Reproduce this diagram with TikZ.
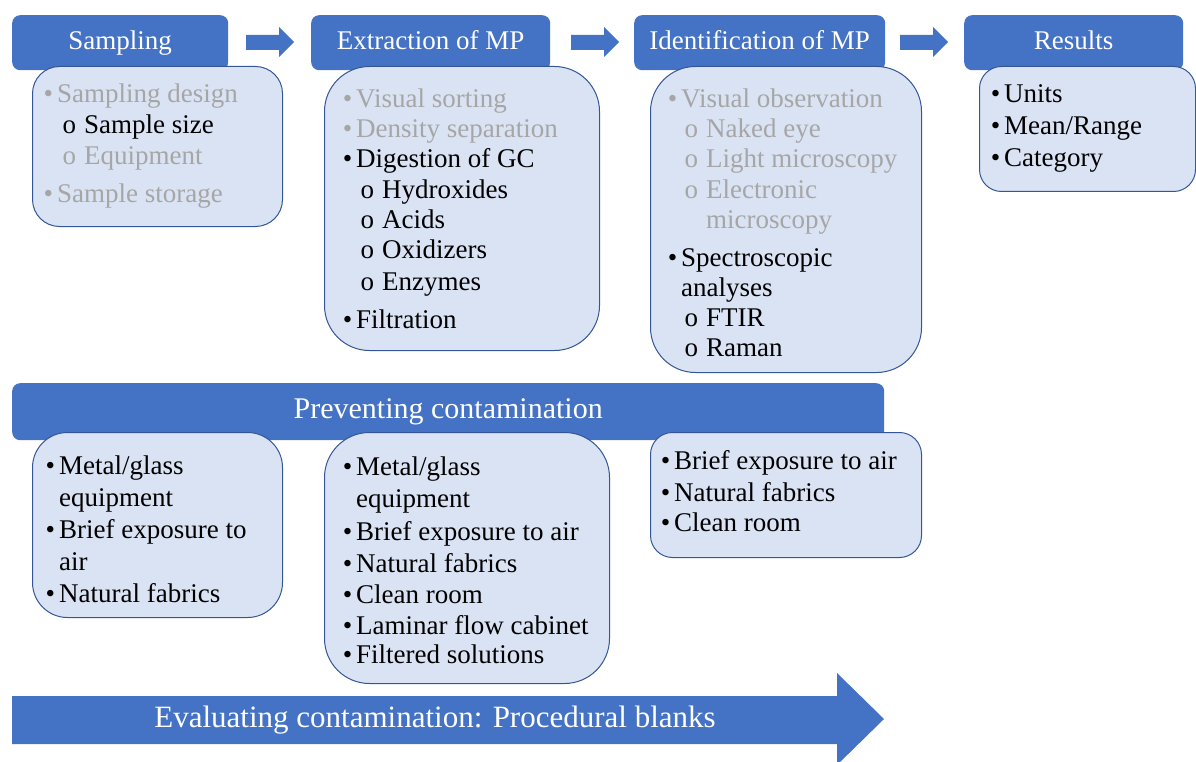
\documentclass[tikz,border=0pt]{standalone}
\usepackage{fontspec}
\setmainfont{Liberation Serif}
\definecolor{hblue}{RGB}{68,114,196}
\definecolor{bfill}{RGB}{218,227,243}
\definecolor{bline}{RGB}{52,86,150}
\definecolor{gtxt}{RGB}{166,166,166}
\newcommand\bul{\llap{\textbullet\hspace{4pt}}}
\newcommand\subo{\llap{o\hspace{8pt}}}
\tikzset{
 hdr/.style={fill=hblue, rounded corners=8pt, text=white, font=\fontsize{27}{32}\selectfont, inner sep=0pt, anchor=north west, text height=19pt, text depth=6pt},
 cbox/.style={fill=bfill, draw=bline, line width=1pt, inner sep=0pt, anchor=north west},
 itm/.style={anchor=base west, inner sep=0pt, font=\fontsize{27}{32}\selectfont, text=black},
 gitm/.style={itm, text=gtxt},
 barrow/.style={fill=hblue}
}
\begin{document}
\begin{tikzpicture}[x=1pt,y=-1pt]
\useasboundingbox (0,0) rectangle (1196,762);
% headers
\node[hdr, minimum width=216pt, minimum height=55pt] (h1) at (12,15) {Sampling};
\node[hdr, minimum width=239pt, minimum height=55pt] (h2) at (311,15) {Extraction of MP};
\node[hdr, minimum width=251pt, minimum height=55pt] (h3) at (634,15) {Identification of MP};
\node[hdr, minimum width=219pt, minimum height=55pt] (h4) at (964,15) {Results};
% small arrows
\fill[barrow] (246,35) -- (279,35) -- (279,27) -- (294,42) -- (279,57) -- (279,50) -- (246,50) -- cycle;
\fill[barrow] (571,35) -- (604,35) -- (604,27) -- (619,42) -- (604,57) -- (604,50) -- (571,50) -- cycle;
\fill[barrow] (900,35) -- (933,35) -- (933,27) -- (948,42) -- (933,57) -- (933,50) -- (900,50) -- cycle;
% top boxes
\node[cbox, rounded corners=27pt, minimum width=250pt, minimum height=160pt] (b1) at (32,66) {};
\node[cbox, rounded corners=45pt, minimum width=275pt, minimum height=284pt] (b2) at (324,66) {};
\node[cbox, rounded corners=45pt, minimum width=271pt, minimum height=306pt] (b3) at (650,66) {};
\node[cbox, rounded corners=22pt, minimum width=216pt, minimum height=125pt] (b4) at (979,66) {};
% sampling
\node[gitm] (s1) at (57,103) {\bul Sampling design};
\node[itm] (s2) at (84,134) {\subo Sample size};
\node[gitm] (s3) at (84,165) {\subo Equipment};
\node[gitm] (s4) at (57,203) {\bul Sample storage};
% extraction
\node[gitm] (e1) at (356,108) {\bul Visual sorting};
\node[gitm] (e2) at (356,138) {\bul Density separation};
\node[itm] (e3) at (356,168) {\bul Digestion of GC};
\node[itm] (e4) at (382,198) {\subo Hydroxides};
\node[itm] (e5) at (382,228) {\subo Acids};
\node[itm] (e6) at (382,258) {\subo Oxidizers};
\node[itm] (e7) at (382,290) {\subo Enzymes};
\node[itm] (e8) at (356,328) {\bul Filtration};
% identification
\node[gitm] (i1) at (681,108) {\bul Visual observation};
\node[gitm] (i2) at (706,138) {\subo Naked eye};
\node[gitm] (i3) at (706,168) {\subo Light microscopy};
\node[gitm] (i4) at (706,198) {\subo Electronic};
\node[gitm] (i5) at (706,228) {microscopy};
\node[itm] (i6) at (681,266) {\bul Spectroscopic};
\node[itm] (i7) at (681,296) {analyses};
\node[itm] (i8) at (706,326) {\subo FTIR};
\node[itm] (i9) at (706,356) {\subo Raman};
% results
\node[itm] (r1) at (1004,103) {\bul Units};
\node[itm] (r2) at (1004,135) {\bul Mean/Range};
\node[itm] (r3) at (1004,167) {\bul Category};
% preventing bar
\node[hdr, minimum width=872pt, minimum height=57pt, font=\fontsize{30}{34}\selectfont, text height=20pt, text depth=7pt] (pc) at (12,383) {Preventing contamination};
\node[cbox, rounded corners=35pt, minimum width=250pt, minimum height=185pt] (c1) at (32,432) {};
\node[cbox, rounded corners=45pt, minimum width=285pt, minimum height=251pt] (c2) at (324,432) {};
\node[cbox, rounded corners=22pt, minimum width=271pt, minimum height=125pt] (c3) at (650,432) {};
\node[itm] (p1) at (59,474) {\bul Metal/glass};
\node[itm] (p2) at (59,506) {equipment};
\node[itm] (p3) at (59,538) {\bul Brief exposure to};
\node[itm] (p4) at (59,570) {air};
\node[itm] (p5) at (59,602) {\bul Natural fabrics};
\node[itm] (q1) at (356,475) {\bul Metal/glass};
\node[itm] (q2) at (356,507) {equipment};
\node[itm] (q3) at (356,540) {\bul Brief exposure to air};
\node[itm] (q4) at (356,572) {\bul Natural fabrics};
\node[itm] (q5) at (356,603) {\bul Clean room};
\node[itm] (q6) at (356,634) {\bul Laminar flow cabinet};
\node[itm] (q7) at (356,663) {\bul Filtered solutions};
\node[itm] (t1) at (674,469) {\bul Brief exposure to air};
\node[itm] (t2) at (674,501) {\bul Natural fabrics};
\node[itm] (t3) at (674,531) {\bul Clean room};
% evaluating arrow
\fill[barrow] (12,696) -- (837,696) -- (837,673) -- (884,719) -- (837,765) -- (837,744) -- (12,744) -- cycle;
\node[text=white, font=\fontsize{31}{35}\selectfont, inner sep=0pt] (ev) at (435,720) {Evaluating contamination: Procedural blanks};
\end{tikzpicture}
\end{document}
